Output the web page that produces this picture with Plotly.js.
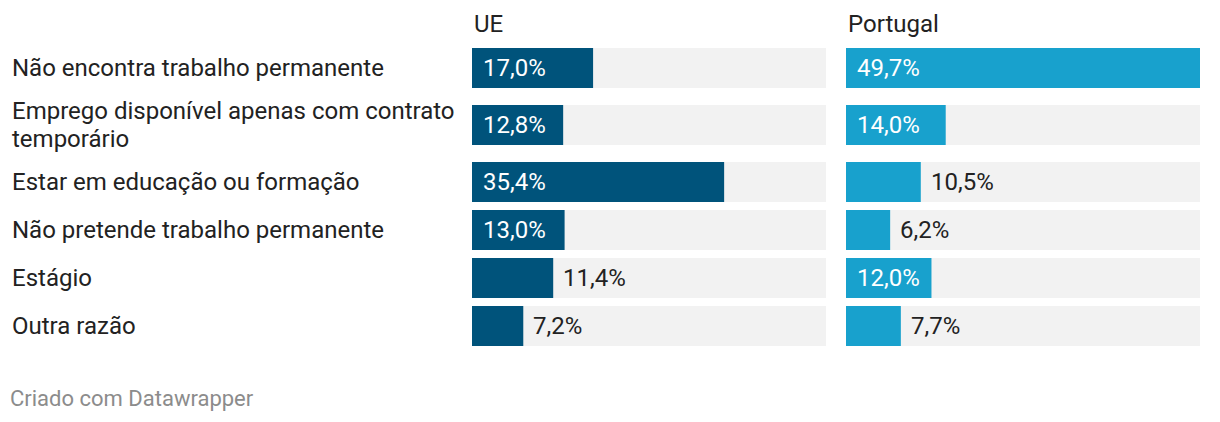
<!DOCTYPE html>
<html>
<head>
<meta charset="utf-8">
<script src="https://cdn.plot.ly/plotly-3.0.1.min.js"></script>
<style>
  html, body { margin: 0; padding: 0; background: #fff; }
  #chart { width: 1220px; height: 422px; }
</style>
</head>
<body>
<div id="chart"></div>
<script>
const reasons = [
  'Não encontra trabalho permanente',
  'Emprego disponível apenas com contrato<br>temporário',
  'Estar em educação ou formação',
  'Não pretende trabalho permanente',
  'Estágio',
  'Outra razão',
];
const ueValues = [17.0, 12.8, 35.4, 13.0, 11.4, 7.2];
const ptValues = [49.7, 14.0, 10.5, 6.2, 12.0, 7.7];
const panelTitles = ['UE', 'Portugal'];

const W = 1220;
const FONT = 'Roboto, "Open Sans", sans-serif';
const maxValue = Math.max(...ueValues, ...ptValues);
const panels = [
  { axis: 'x', values: ueValues, color: '#00537b', left: 472, right: 826, title: panelTitles[0] },
  { axis: 'x2', values: ptValues, color: '#18a1cd', left: 846, right: 1200, title: panelTitles[1] },
];

// row centers in pixels (y axis runs in pixels, top = 0)
function rowCenters(labels) {
  let top = 44;
  return labels.map((label) => {
    const lines = label.split('<br>').length;
    const slot = 48 + 18 * (lines - 1);
    const c = top + slot / 2;
    top += slot;
    return c;
  });
}

const fmt = (v) => v.toFixed(1).replace('.', ',') + '%';
const ys = rowCenters(reasons);

const traces = [];
const annotations = [];

panels.forEach((p) => {
  const pxPerUnit = (p.right - p.left) / maxValue;
  traces.push({
    type: 'bar', orientation: 'h', xaxis: p.axis, yaxis: 'y',
    x: reasons.map(() => maxValue), y: ys, width: 40,
    marker: { color: '#f2f2f2' }, hoverinfo: 'skip', showlegend: false,
  });
  traces.push({
    type: 'bar', orientation: 'h', xaxis: p.axis, yaxis: 'y',
    x: p.values, y: ys, width: 40,
    marker: { color: p.color }, showlegend: false,
  });
  p.values.forEach((v, i) => {
    const inside = v * pxPerUnit > 83;
    annotations.push({
      xref: p.axis, yref: 'y', x: inside ? 0 : v, y: ys[i],
      xanchor: 'left', yanchor: 'middle', xshift: inside ? 9 : 8,
      text: fmt(v), showarrow: false,
      font: { family: FONT, size: 24, color: inside ? '#ffffff' : '#222222' },
    });
  });
  annotations.push({
    xref: 'paper', yref: 'y', x: p.left / W, y: 24,
    xanchor: 'left', yanchor: 'middle', text: p.title, showarrow: false,
    font: { family: FONT, size: 24, color: '#222222' },
  });
});

reasons.forEach((r, i) => {
  const lines = r.split('<br>');
  lines.forEach((line, j) => {
    annotations.push({
      xref: 'paper', yref: 'y', x: 10 / W, y: ys[i] + (j - (lines.length - 1) / 2) * 28,
      xanchor: 'left', yanchor: 'middle', align: 'left', text: line, showarrow: false,
      font: { family: FONT, size: 24, color: '#222222' },
    });
  });
});

annotations.push({
  xref: 'paper', yref: 'y', x: 8 / W, y: 398,
  xanchor: 'left', yanchor: 'middle', text: 'Criado com Datawrapper', showarrow: false,
  font: { family: FONT, size: 22, color: '#8c8c8c' },
});

const hiddenX = (left, right) => ({
  domain: [left / W, right / W], range: [0, maxValue],
  showgrid: false, zeroline: false, showticklabels: false, fixedrange: true,
});

const layout = {
  width: W, height: 422,
  margin: { l: 0, r: 0, t: 0, b: 0 },
  paper_bgcolor: '#ffffff', plot_bgcolor: 'rgba(0,0,0,0)',
  barmode: 'overlay',
  xaxis: hiddenX(panels[0].left, panels[0].right),
  xaxis2: Object.assign(hiddenX(panels[1].left, panels[1].right), { anchor: 'y' }),
  yaxis: {
    domain: [0, 1], range: [422, 0],
    showgrid: false, zeroline: false, showticklabels: false, fixedrange: true,
  },
  annotations,
  font: { family: FONT },
};

Plotly.newPlot('chart', traces, layout, { displayModeBar: false, staticPlot: true });
</script>
</body>
</html>
